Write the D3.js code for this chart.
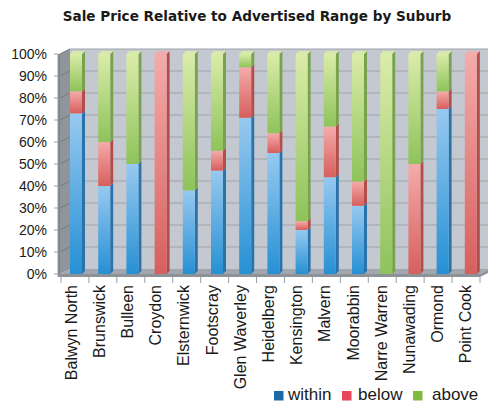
<!DOCTYPE html>
<html>
<head>
<meta charset="utf-8">
<script src="https://cdn.jsdelivr.net/npm/d3@7/dist/d3.min.js"></script>
<style>
  body { margin: 0; background: #fff; }
  svg text { font-family: "Liberation Sans", Arial, Helvetica, sans-serif; fill: #1a1a1a; }
</style>
</head>
<body>
<div id="chart"></div>
<script>
// chart data
var categories = ["Balwyn North", "Brunswick", "Bulleen", "Croydon", "Elsternwick", "Footscray",
  "Glen Waverley", "Heidelberg", "Kensington", "Malvern", "Moorabbin", "Narre Warren",
  "Nunawading", "Ormond", "Point Cook"];
var within = [73, 40, 50, 0, 38, 47, 71, 55, 20, 44, 31, 0, 0, 75, 0];
var below  = [10, 20, 0, 100, 0, 9, 23, 9, 4, 23, 11, 0, 50, 8, 100];
var above  = [17, 40, 50, 0, 62, 44, 6, 36, 76, 33, 58, 100, 50, 17, 0];
var seriesNames = ["within", "below", "above"];
var yTicks = [0, 10, 20, 30, 40, 50, 60, 70, 80, 90, 100];

var W = 488, H = 403;
var svg = d3.select("#chart").append("svg").attr("width", W).attr("height", H);
var defs = svg.append("defs");

// face colours per series: [top of gradient, bottom of gradient, side, legend]
var palette = {
  within: ["#97c9f0", "#2690d4", "#2a73aa", "#1b6aa8"],
  below:  ["#f4abaa", "#d75f5d", "#b24d4c", "#e8465a"],
  above:  ["#daeca9", "#8ec35a", "#78a24c", "#80bb3e"]
};
seriesNames.forEach(function(s) {
  var g = defs.append("linearGradient").attr("id", "g-" + s)
    .attr("x1", 0).attr("y1", 0).attr("x2", 0).attr("y2", 1);
  g.append("stop").attr("offset", "0%").attr("stop-color", palette[s][0]);
  g.append("stop").attr("offset", "100%").attr("stop-color", palette[s][1]);
});

var y = d3.scaleLinear().domain([0, 100]).range([274, 54]);
var xAxis = d3.scaleBand().domain(categories).range([61, 480]);
var xBar = d3.scaleBand().domain(categories).range([63, 63 + 15 * 28.2]);
var dx = 10, dy = -5;      // wall depth
var bw = 12, bs = 3;       // bar front width, bar side depth
var left = 60, right = 480;

// back wall
svg.append("rect")
  .attr("x", left + dx).attr("y", y(100) + dy)
  .attr("width", W - (left + dx)).attr("height", y(0) - y(100))
  .attr("fill", "#c4c8d0");
// left wall
svg.append("polygon")
  .attr("points", [[left, y(100)], [left + dx, y(100) + dy], [left + dx, y(0) + dy], [left, y(0)]].join(" "))
  .attr("fill", "#8f959b");
svg.append("rect").attr("x", left - 2).attr("y", y(100)).attr("width", 2).attr("height", y(0) - y(100))
  .attr("fill", "#7d8389");
// floor
svg.append("polygon")
  .attr("points", [[left, y(0)], [right, y(0)], [right + dx, y(0) + dy], [left + dx, y(0) + dy]].join(" "))
  .attr("fill", "#a3a7ad");
svg.append("polygon")
  .attr("points", [[left - 2, y(0)], [right, y(0)], [right + dx, y(0) + dy], [right + dx, y(0) + dy + 3], [right, y(0) + 3], [left - 2, y(0) + 3]].join(" "))
  .attr("fill", "#8d9298");

// gridlines
var grid = svg.append("g").attr("stroke", "#9ea3aa").attr("stroke-width", 1.2);
yTicks.forEach(function(t) {
  if (t === 0) return;
  grid.append("line").attr("x1", left + dx).attr("x2", W).attr("y1", y(t) + dy).attr("y2", y(t) + dy);
  grid.append("line").attr("x1", left).attr("x2", left + dx).attr("y1", y(t)).attr("y2", y(t) + dy)
    .attr("stroke", "#7b8187");
});

// y axis ticks and labels
var yAx = svg.append("g");
yAx.append("line").attr("x1", left - 2).attr("x2", left - 2).attr("y1", y(100)).attr("y2", y(0) + 3)
  .attr("stroke", "#9a9ea3");
yTicks.forEach(function(t) {
  yAx.append("line").attr("x1", left - 6).attr("x2", left - 2).attr("y1", y(t)).attr("y2", y(t))
    .attr("stroke", "#9a9ea3");
  yAx.append("text").attr("x", 47).attr("y", y(t)).attr("dy", "0.35em")
    .attr("text-anchor", "end").style("font-size", "14px").text(t + "%");
});

// x axis ticks between categories
var xAx = svg.append("g").attr("stroke", "#9a9ea3");
categories.concat([null]).forEach(function(c) {
  var xx = c ? xAxis(c) : xAxis.range()[1];
  xAx.append("line").attr("x1", xx).attr("x2", xx).attr("y1", y(0) + 3).attr("y2", y(0) + 9);
});

// stacked bars
var table = categories.map(function(c, i) {
  return { cat: c, within: within[i], below: below[i], above: above[i] };
});
var stack = d3.stack().keys(seriesNames)(table);

var bars = svg.append("g");
stack.forEach(function(layer) {
  var s = layer.key;
  layer.forEach(function(d) {
    if (d[1] - d[0] <= 0) return;
    var x0 = xBar(d.data.cat) + 7;
    var yTop = y(d[1]), yBot = y(d[0]);
    // side face
    bars.append("polygon")
      .attr("points", [[x0 + bw, yTop], [x0 + bw + bs, yTop - bs], [x0 + bw + bs, yBot - bs], [x0 + bw, yBot]].join(" "))
      .attr("fill", palette[s][2]);
    // front face
    bars.append("rect")
      .attr("x", x0).attr("y", yTop).attr("width", bw).attr("height", yBot - yTop)
      .attr("fill", "url(#g-" + s + ")");
    // top face on top segment
    if (d[1] >= 100) {
      bars.append("polygon")
        .attr("points", [[x0, yTop], [x0 + bs, yTop - bs], [x0 + bw + bs, yTop - bs], [x0 + bw, yTop]].join(" "))
        .attr("fill", palette[s][0]).attr("opacity", 0.9);
    }
  });
});

// category labels
svg.append("g").selectAll("text").data(categories).join("text")
  .attr("transform", function(c) { return "translate(" + (xBar(c) + 7 + bw / 2 + 0.5) + ",285) rotate(-90)"; })
  .attr("text-anchor", "end")
  .style("font-size", "16px")
  .text(function(c) { return c; });

// title
svg.append("text").attr("x", 257).attr("y", 21).attr("text-anchor", "middle")
  .style("font-family", "'DejaVu Sans', sans-serif")
  .style("font-size", "13.6px").style("font-weight", "bold").text("Sale Price Relative to Advertised Range by Suburb");

// legend
var legX = [274, 342, 413];
var legTx = [288, 358, 432];
var leg = svg.append("g");
seriesNames.forEach(function(s, i) {
  leg.append("rect").attr("x", legX[i]).attr("y", 391).attr("width", 9.5).attr("height", 9.5)
    .attr("fill", palette[s][3]);
  leg.append("text").attr("x", legTx[i]).attr("y", 400).style("font-size", "17px").text(s);
});
</script>
</body>
</html>
